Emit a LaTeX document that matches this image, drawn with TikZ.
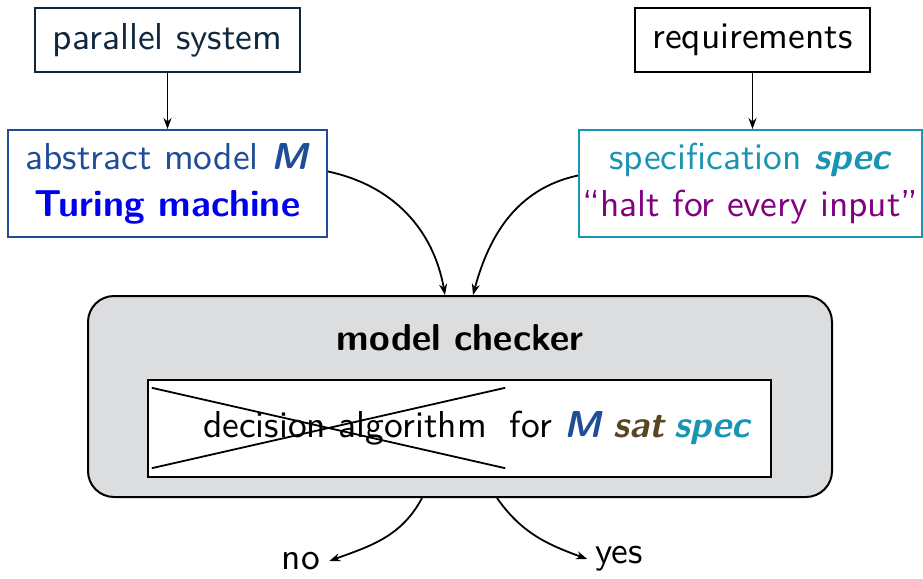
\documentclass[tikz,border=0pt]{standalone}
\usepackage{fontspec}
\setsansfont{lmsans10-regular.otf}[
  BoldFont=lmsans10-bold.otf,
  ItalicFont=lmsans10-oblique.otf,
  BoldItalicFont=lmsans10-boldoblique.otf]
\usetikzlibrary{arrows.meta,calc}
\definecolor{navyink}{HTML}{10283E}
\definecolor{modelblue}{HTML}{1F4E96}
\definecolor{turingblue}{HTML}{0000F0}
\definecolor{specteal}{HTML}{1A94B4}
\definecolor{quotepurple}{HTML}{800080}
\definecolor{satbrown}{HTML}{5A4520}
\definecolor{checkergray}{HTML}{DCDDDF}
\begin{document}
\begin{tikzpicture}[x=1pt,y=-1pt,
  txt/.style={font=\fontsize{37.5}{46}\selectfont\sffamily},
  plainbox/.style={txt,draw,line width=2pt,inner sep=0pt,align=center},
  arr/.style={line width=1.8pt,-{Stealth[length=11pt,width=8pt]}}]
\useasboundingbox (0,0) rectangle (923,578);

% top row: sources
\node[plainbox,draw=navyink,text=navyink,minimum width=265pt,minimum height=64pt] (ps) at (167.5,40) {parallel system};
\node[plainbox,minimum width=235pt,minimum height=64pt] (req) at (752.5,40) {requirements};

% second row: model and specification
\node[plainbox,draw=modelblue,minimum width=319pt,minimum height=107pt] (abs) at (167.5,183.5)
  {\textcolor{modelblue}{abstract model \textbf{\textit{M}}}\\[1pt]\textcolor{turingblue}{\textbf{Turing machine}}};
\node[plainbox,draw=specteal,minimum width=343pt,minimum height=107pt] (spec) at (750.5,183.5)
  {\textcolor{specteal}{specification \textbf{\textit{spec}}}\\[1pt]\textcolor{quotepurple}{``halt for every input''}};

% model checker
\node[draw,line width=2pt,fill=checkergray,rounded corners=26pt,minimum width=744pt,minimum height=201pt] (mc) at (460,396.5) {};
\node[txt,font=\fontsize{37.5}{46}\selectfont\sffamily\bfseries] (mclabel) at (460,338) {model checker};
\node[draw,fill=white,line width=2pt,minimum width=623pt,minimum height=97pt] (inner) at (459.5,428.5) {};
\node[txt] (da) at (345,428) {decision algorithm};
\node[txt] (forms) at (631,428) {for \textcolor{modelblue}{\textbf{\textit{M}}}\hspace{-2pt} \textcolor{satbrown}{\textbf{\textit{sat}}}\hspace{-4pt} \textcolor{specteal}{\textbf{\textit{spec}}}};
\node[minimum width=353pt,minimum height=80pt,inner sep=0pt] (cross) at (328.5,428) {};
\draw[line width=1.8pt] (cross.north west) -- (cross.south east);
\draw[line width=1.8pt] (cross.south west) -- (cross.north east);

% verdicts
\node[txt,inner sep=9pt] (no) at (301,561) {no};
\node[txt,inner sep=8pt] (yes) at (619,559) {yes};

% connectors
\draw[arr] (ps) -- (abs);
\draw[arr] (req.south) -- (req.south |- spec.north);
\draw[arr] ([yshift=12pt]abs.east) to[out=-12,in=100] ([xshift=-15pt]mc.north);
\draw[arr] ([yshift=8pt]spec.west) to[out=192,in=75] ([xshift=13pt]mc.north);
\draw[arr] ([xshift=-38pt]mc.south) to[out=-118,in=20] (no.east);
\draw[arr] ([xshift=37pt]mc.south) to[out=-55,in=160] (yes.west);
\end{tikzpicture}
\end{document}
